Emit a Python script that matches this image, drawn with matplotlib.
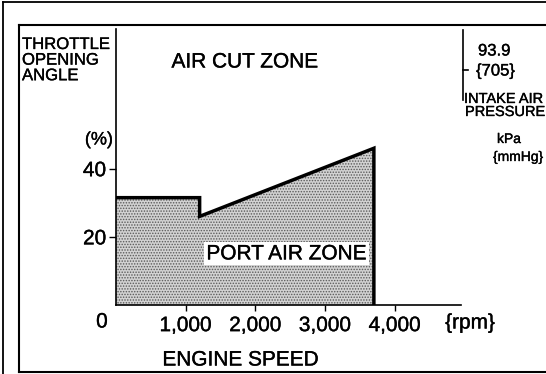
import matplotlib.pyplot as plt
from matplotlib.lines import Line2D
import matplotlib.patheffects as pe

plt.rcParams['font.family'] = ['Liberation Sans', 'DejaVu Sans']
plt.rcParams['hatch.linewidth'] = 0.7

# port air zone boundary: engine speed (rpm) vs throttle opening angle (%)
rpm_pts = [0, 1200, 1200, 3700, 3700]
angle_pts = [31.5, 31.5, 26, 46, 0]

x_ticks = [1000, 2000, 3000, 4000]
x_labels = ['1,000', '2,000', '3,000', '4,000']
y_ticks = [20, 40]
y_labels = ['20', '40']

W, H = 546, 374
ink = [pe.withStroke(linewidth=0.25, foreground='black')]


def px(x, y):
    return x / W, 1 - y / H


def label(x, y, s, size, **kw):
    t = fig.text(*px(x, y), s, fontsize=size, **kw)
    t.set_path_effects(ink)
    return t


fig = plt.figure(figsize=(W / 100, H / 100), dpi=100)
fig.patch.set_facecolor('white')

# page frames
fig.add_artist(Line2D([3 / W, 3 / W], [0, 1 - 2 / H], color='black', lw=1.3))
fig.add_artist(Line2D([3 / W, 1], [1 - 2 / H, 1 - 2 / H], color='black', lw=1.3))
fig.add_artist(Line2D([19 / W, 19 / W], [1 - 372 / H, 1 - 25 / H], color='black', lw=1.5))
fig.add_artist(Line2D([19 / W, 1], [1 - 25 / H, 1 - 25 / H], color='black', lw=1.5))
fig.add_artist(Line2D([19 / W, 1], [1 - 372 / H, 1 - 372 / H], color='black', lw=1.5))

ax = fig.add_axes([116 / W, 1 - 305 / H, 345 / W, 276 / H])
ax.set_xlim(0, 4950)
ax.set_ylim(0, 81)
ax.patch.set_alpha(0)
for s in ['top', 'right']:
    ax.spines[s].set_visible(False)
for s in ['left', 'bottom']:
    ax.spines[s].set_linewidth(1.2)

ax.fill_between(rpm_pts, angle_pts, 0, facecolor='#d2d2d2', edgecolor='#5a5a5a',
                hatch='......', linewidth=0)
ax.plot(rpm_pts, angle_pts, color='black', lw=2.5, solid_joinstyle='miter')

ax.set_xticks(x_ticks, x_labels, fontsize=15)
ax.set_yticks(y_ticks, y_labels, fontsize=15)
ax.tick_params(axis='x', direction='out', length=4, width=1, pad=4)
ax.tick_params(axis='y', direction='out', length=5, width=1, pad=2)
for t in ax.get_xticklabels() + ax.get_yticklabels():
    t.set_path_effects(ink)

pz = ax.text(2450, 15, 'PORT AIR ZONE', fontsize=15, ha='center', va='center',
             bbox=dict(facecolor='white', edgecolor='none', pad=1.5))
pz.set_path_effects(ink)

label(245, 62, 'AIR CUT ZONE', 15, ha='center', va='center')
label(22, 37, 'THROTTLE\nOPENING\nANGLE', 12, ha='left', va='top', linespacing=1.05)
label(113, 140, '(%)', 13, ha='right', va='center')
label(102, 322, '0', 15, ha='center', va='center')
label(470, 323, '{rpm}', 15, ha='center', va='center')
label(241, 360, 'ENGINE SPEED', 15, ha='center', va='center')

# intake air pressure scale
fig.add_artist(Line2D([463 / W, 463 / W], [1 - 100 / H, 1 - 30 / H], color='black', lw=1.2))
fig.add_artist(Line2D([463 / W, 468 / W], [1 - 70 / H, 1 - 70 / H], color='black', lw=1.2))
label(478, 51, '93.9', 12, ha='left', va='center')
label(476, 71, '{705}', 12, ha='left', va='center')
label(464, 99, 'INTAKE AIR', 10.5, ha='left', va='center')
label(465, 112, 'PRESSURE', 10.5, ha='left', va='center')
label(497, 139, 'kPa', 10, ha='left', va='center')
label(493, 157, '{mmHg}', 10, ha='left', va='center')

fig.savefig('out.png', dpi=100)
